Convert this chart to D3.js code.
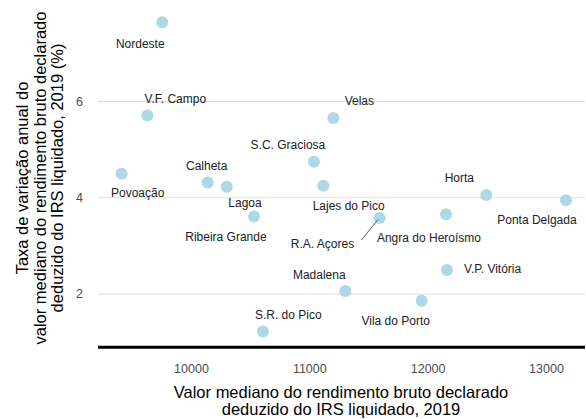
<!DOCTYPE html>
<html>
<head>
<meta charset="utf-8">
<script src="https://cdn.jsdelivr.net/npm/d3@7"></script>
<style>
  html, body { margin: 0; padding: 0; background: #fff; }
  svg { display: block; font-family: "Liberation Sans", Arial, sans-serif; }
</style>
</head>
<body>
<svg id="chart" width="586" height="419"></svg>
<script>
// ---- data ----
const municipalities = ["Nordeste", "V.F. Campo", "Povoação", "Calheta", "Lagoa", "Ribeira Grande",
  "S.C. Graciosa", "Velas", "Lajes do Pico", "R.A. Açores", "Angra do Heroísmo", "Horta",
  "Ponta Delgada", "V.P. Vitória", "Madalena", "Vila do Porto", "S.R. do Pico"];
const medianIncome = [9757, 9631, 9414, 10141, 10302, 10532,
  11039, 11203, 11118, 11593, 12155, 12496,
  13169, 12163, 11304, 11950, 10608];
const growthRate = [7.65, 5.71, 4.50, 4.32, 4.23, 3.61,
  4.75, 5.66, 4.25, 3.58, 3.66, 4.06,
  3.95, 2.50, 2.06, 1.86, 1.22];
const xTicks = [10000, 11000, 12000, 13000];
const yTicks = [2, 4, 6];

// ---- layout (label placement, like ggrepel output) ----
const labelOffset = [[-22, 21], [28, -17], [16, 19], [-1, -16.5], [18.3, 15.6], [-28, 20],
  [-26, -16.7], [26, -17], [25.4, 20], [-57, 26], [-17, 23.7], [-27, -16.7],
  [-29, 20], [45.7, -1], [-26, -16], [-26, 20], [25.3, -16.7]];
const leaderLines = {"R.A. Açores": true};

const svg = d3.select("#chart");
const panel = {left: 98, right: 585, top: 6, bottom: 347.3};

const x = d3.scaleLinear().domain([9214, 13330]).range([panel.left, panel.right]);
const y = d3.scaleLinear().domain([0.89, 7.99]).range([panel.bottom, panel.top]);

// horizontal gridlines
svg.append("g").selectAll("line").data(yTicks).join("line")
  .attr("x1", panel.left).attr("x2", panel.right)
  .attr("y1", d => y(d)).attr("y2", d => y(d))
  .attr("stroke", "#dedede").attr("stroke-width", 1.1);

// y tick labels
const yAxis = d3.axisLeft(y).tickValues(yTicks).tickSize(0).tickPadding(0);
const gy = svg.append("g").attr("transform", `translate(${83},0)`).call(yAxis);
gy.select(".domain").remove();
gy.selectAll("text").attr("fill", "#4d4d4d").attr("font-size", 12.5)
  .attr("font-family", "Liberation Sans, Arial, sans-serif");

// x axis
const xAxis = d3.axisBottom(x).tickValues(xTicks).tickSize(0).tickPadding(0).tickFormat(d3.format("d"));
const gx = svg.append("g").attr("transform", `translate(0,${panel.bottom})`).call(xAxis);
gx.select(".domain").remove();
gx.selectAll("text").attr("fill", "#4d4d4d").attr("font-size", 12.5)
  .attr("font-family", "Liberation Sans, Arial, sans-serif")
  .attr("y", 21.5).attr("dy", "0.35em");
svg.append("line")
  .attr("x1", panel.left).attr("x2", panel.right)
  .attr("y1", panel.bottom).attr("y2", panel.bottom)
  .attr("stroke", "#000").attr("stroke-width", 3);

const data = municipalities.map((m, i) => ({name: m, x: medianIncome[i], y: growthRate[i], off: labelOffset[i]}));

// points
svg.append("g").selectAll("circle").data(data).join("circle")
  .attr("cx", d => x(d.x)).attr("cy", d => y(d.y)).attr("r", 6)
  .attr("fill", "#add8e6");

// leader segments
svg.append("g").selectAll("line").data(data.filter(d => leaderLines[d.name])).join("line")
  .attr("x1", d => x(d.x) - 18).attr("y1", d => y(d.y) + 22)
  .attr("x2", d => x(d.x) - 1.5).attr("y2", d => y(d.y) + 1.5)
  .attr("stroke", "#333").attr("stroke-width", 0.8);

// labels
svg.append("g").selectAll("text").data(data).join("text")
  .attr("x", d => x(d.x) + d.off[0]).attr("y", d => y(d.y) + d.off[1])
  .attr("dy", "0.35em").attr("text-anchor", "middle")
  .attr("font-size", 12).attr("fill", "#222")
  .text(d => d.name);

// axis titles
const xt = svg.append("text").attr("text-anchor", "middle").attr("font-size", 16.5).attr("fill", "#000");
xt.append("tspan").attr("x", 341).attr("y", 397.5).text("Valor mediano do rendimento bruto declarado");
xt.append("tspan").attr("x", 341).attr("y", 415).text("deduzido do IRS liquidado, 2019");

const yt = svg.append("text").attr("text-anchor", "middle").attr("font-size", 16.5).attr("fill", "#000")
  .attr("transform", "translate(0,178) rotate(-90)");
yt.append("tspan").attr("x", 0).attr("y", 28).text("Taxa de variação anual do");
yt.append("tspan").attr("x", 0).attr("y", 45.5).text("valor mediano do rendimento bruto declarado");
yt.append("tspan").attr("x", 0).attr("y", 63).text("deduzido do IRS liquidado, 2019 (%)");
</script>
</body>
</html>
